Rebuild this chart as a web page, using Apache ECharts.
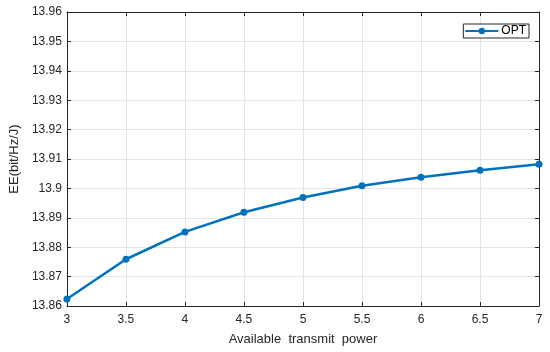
<!DOCTYPE html>
<html lang="en">
<head>
<meta charset="UTF-8">
<title>EE vs power</title>
<script src="https://cdn.jsdelivr.net/npm/echarts@6/dist/echarts.min.js"></script>
<style>html,body{margin:0;padding:0;background:#fff;}</style>
</head>
<body>
<div id="chart" style="width:550px;height:352px;"></div>
<script>
var powers = [3, 3.5, 4, 4.5, 5, 5.5, 6, 6.5, 7];
var optValues = [13.8624, 13.8759, 13.8852, 13.8919, 13.8969, 13.9009, 13.9038, 13.9062, 13.9082];

var chart = echarts.init(document.getElementById('chart'));
var font = 'Liberation Sans, Arial, sans-serif';
var axisLine = { show: true, lineStyle: { color: '#262626', width: 1 } };
var tick = { show: true, inside: true, length: 4, lineStyle: { color: '#262626' } };

var pts = [];
for (var i = 0; i < powers.length; i++) pts.push([powers[i], optValues[i]]);

chart.setOption({
    animation: false,
    grid: { left: 58, right: 11, top: 12, bottom: 46 },
    legend: {
        right: 21, top: 24,
        data: ['OPT'],
        itemWidth: 33, itemHeight: 8,
        backgroundColor: '#fff',
        borderColor: '#262626', borderWidth: 1, borderRadius: 0,
        padding: [1, 3, 1, 1],
        textStyle: { fontFamily: font, fontSize: 12, color: '#000', padding: [0, 0, 0, -2] }
    },
    xAxis: [{
        type: 'value', min: 3, max: 7, interval: 0.5,
        name: 'Available  transmit  power', nameLocation: 'middle', nameGap: 27,
        nameTextStyle: { fontFamily: font, fontSize: 13, color: '#262626' },
        axisLine: axisLine, axisTick: tick,
        axisLabel: { fontFamily: font, fontSize: 12, color: '#262626', margin: 8 },
        splitLine: { show: true, lineStyle: { color: '#e3e3e3' } }
    }, {
        type: 'value', min: 3, max: 7, interval: 0.5, position: 'top',
        axisLine: axisLine, axisTick: tick, axisLabel: { show: false }, splitLine: { show: false }
    }],
    yAxis: [{
        type: 'value', min: 13.86, max: 13.96, interval: 0.01,
        name: 'EE(bit/Hz/J)', nameLocation: 'middle', nameGap: 45,
        nameTextStyle: { fontFamily: font, fontSize: 13, color: '#262626' },
        axisLine: axisLine, axisTick: tick,
        axisLabel: { fontFamily: font, fontSize: 12, color: '#262626', margin: 5,
            formatter: function (v) { return String(parseFloat(v.toFixed(2))); } },
        splitLine: { show: true, lineStyle: { color: '#e3e3e3' } }
    }, {
        type: 'value', min: 13.86, max: 13.96, interval: 0.01, position: 'right',
        axisLine: axisLine, axisTick: tick, axisLabel: { show: false }, splitLine: { show: false }
    }],
    series: [{
        name: 'OPT', type: 'line', data: pts,
        symbol: 'circle', symbolSize: 7,
        itemStyle: { color: '#0072BD' },
        lineStyle: { color: '#0072BD', width: 2.5 }
    }]
});
</script>
</body>
</html>
